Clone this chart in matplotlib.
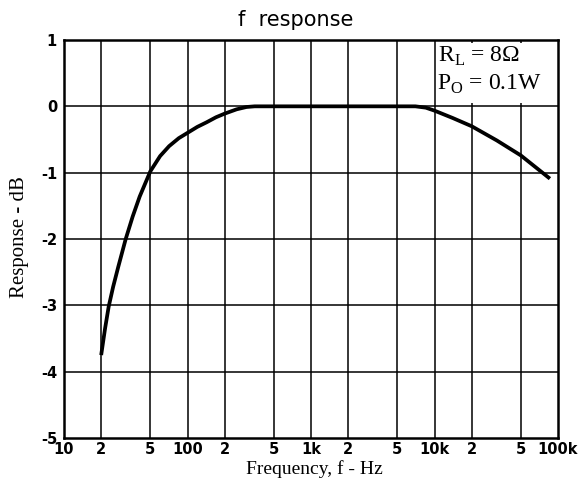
import matplotlib
matplotlib.use('Agg')
import matplotlib.pyplot as plt
from matplotlib.patches import Rectangle
from matplotlib.ticker import NullLocator

# frequency response
freq_hz = [20, 21.5, 23, 25, 27.5, 31.6, 36, 41, 50, 60, 71, 85, 100, 120, 143,
           170, 200, 250, 300, 350, 1000, 3000, 7000, 8500, 10000, 14000, 20000,
           32000, 50000, 86000]
response_db = [-3.75, -3.35, -3.02, -2.72, -2.42, -2.0, -1.66, -1.36, -0.98, -0.75,
               -0.60, -0.48, -0.40, -0.31, -0.24, -0.165, -0.11, -0.045, -0.01, 0.0,
               0.0, 0.0, 0.0, -0.02, -0.065, -0.175, -0.30, -0.515, -0.74, -1.09]

x_ticks = [10, 20, 50, 100, 200, 500, 1000, 2000, 5000, 10000, 20000, 50000, 100000]
x_labels = ['10', '2', '5', '100', '2', '5', '1k', '2', '5', '10k', '2', '5', '100k']
y_ticks = [-5, -4, -3, -2, -1, 0, 1]
y_labels = ['-5', '-4', '-3', '-2', '-1', '0', '1']

plt.rcParams['mathtext.fontset'] = 'custom'
plt.rcParams['mathtext.rm'] = 'Liberation Serif'

fig = plt.figure(figsize=(5.82, 4.83), dpi=100)
ax = fig.add_axes([64 / 582, 45 / 483, 494 / 582, 398 / 483])

ax.set_xscale('log')
ax.set_xlim(10, 100000)
ax.set_ylim(-5, 1)

# grid drawn by hand so the note box can sit on top of it
for xv in x_ticks[1:-1]:
    ax.axvline(xv, color='black', linewidth=1.1, zorder=1)
for yv in y_ticks[1:-1]:
    ax.axhline(yv, color='black', linewidth=1.1, zorder=1)

# white cell for the conditions note (grid stubs stay visible at its edges)
ax.add_patch(Rectangle((10000 * 1.03, 0.05), 100000 * 0.97 - 10000 * 1.03, 0.9,
                       facecolor='white', edgecolor='none', zorder=2))
ax.text(10700, 0.67, r'R$_\mathrm{L}$ = 8Ω', fontsize=17, family='Liberation Serif',
        va='baseline', zorder=3)
ax.text(10500, 0.25, r'P$_\mathrm{O}$ = 0.1W', fontsize=17, family='Liberation Serif',
        va='baseline', zorder=3)

ax.plot(freq_hz, response_db, color='black', linewidth=2.7, solid_capstyle='butt', zorder=4)

ax.xaxis.set_minor_locator(NullLocator())
ax.set_xticks(x_ticks)
ax.set_xticklabels(x_labels)
ax.set_yticks(y_ticks)
ax.set_yticklabels(y_labels)
ax.tick_params(length=0, labelsize=10.5, pad=3)
ax.tick_params(axis='y', pad=5)
for lab in ax.get_xticklabels() + ax.get_yticklabels():
    lab.set_fontweight('bold')

for sp in ax.spines.values():
    sp.set_linewidth(1.8)
    sp.set_zorder(5)

fig.text(296 / 582, 1 - 20 / 483, 'f  response', fontsize=15, ha='center', va='center')
fig.text(314 / 582, 1 - 474 / 483, 'Frequency, f - Hz', fontsize=14,
         family='Liberation Serif', ha='center', va='baseline')
fig.text(20 / 582, 1 - 237 / 483, 'Response - dB', fontsize=15, rotation=90,
         family='Liberation Serif', ha='center', va='center')

fig.savefig('out.png', dpi=100)
plt.close(fig)
